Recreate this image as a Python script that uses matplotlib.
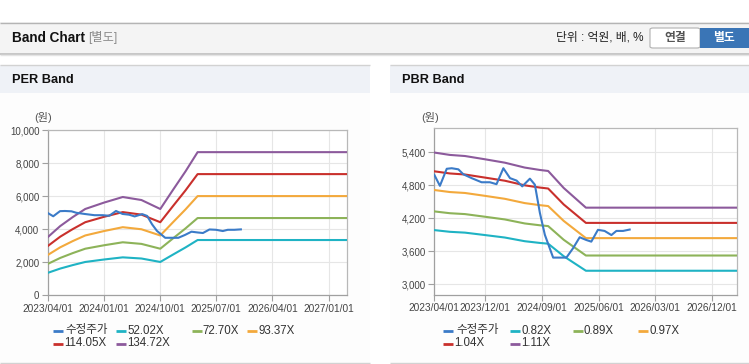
import numpy as np
import pandas as pd
import matplotlib
matplotlib.use("Agg")
import matplotlib.pyplot as plt
from matplotlib.patches import Rectangle, FancyBboxPatch
from matplotlib.lines import Line2D
from matplotlib.ticker import FuncFormatter

plt.rcParams['font.family'] = ['Liberation Sans', 'Noto Sans CJK KR', 'DejaVu Sans']

# ---------------- DATA ----------------
price_dates = ['2023-04-01', '2023-04-28', '2023-05-31', '2023-06-24', '2023-07-26', '2023-08-19',
               '2023-09-28', '2023-11-15', '2023-12-25', '2024-01-26', '2024-02-28', '2024-03-31',
               '2024-05-02', '2024-05-29', '2024-07-05', '2024-07-29', '2024-08-22', '2024-09-15',
               '2024-10-25', '2024-12-28', '2025-01-29', '2025-03-02', '2025-04-03', '2025-04-27',
               '2025-05-29', '2025-06-30', '2025-08-02', '2025-08-26', '2025-09-27', '2025-10-29']
price_values = [4990, 4790, 5100, 5110, 5090, 5000,
                4930, 4855, 4855, 4820, 5110, 4930,
                4885, 4780, 4920, 4810, 4300, 3900,
                3485, 3485, 3655, 3855, 3805, 3775,
                3990, 3970, 3895, 3970, 3970, 3995]

per_band_dates = ['2023-04-01', '2023-06-01', '2023-08-01', '2023-10-01', '2024-01-01', '2024-04-01',
                  '2024-07-01', '2024-10-01', '2024-12-01', '2025-02-01', '2025-04-01', '2027-04-01']
per_labels = ['52.02X', '72.70X', '93.37X', '114.05X', '134.72X']
per_52 = [1360, 1620, 1830, 2020, 2170, 2300, 2230, 2020, 2460, 2900, 3350, 3350]
per_72 = [1901, 2264, 2557, 2823, 3033, 3214, 3116, 2823, 3438, 4053, 4682, 4682]
per_93 = [2441, 2908, 3285, 3626, 3895, 4128, 4003, 3626, 4415, 5205, 6013, 6013]
per_114 = [2982, 3552, 4012, 4429, 4758, 5043, 4889, 4429, 5393, 6358, 7345, 7345]
per_134 = [3522, 4195, 4739, 5231, 5620, 5957, 5775, 5231, 6371, 7510, 8676, 8676]

pbr_band_dates = ['2023-04-01', '2023-06-15', '2023-08-27', '2023-12-01', '2024-03-06', '2024-06-10',
                  '2024-08-21', '2024-10-01', '2024-12-15', '2025-04-01', '2027-04-01']
pbr_labels = ['0.82X', '0.89X', '0.97X', '1.04X', '1.11X']
pbr_082 = [3985, 3954, 3939, 3895, 3850, 3783, 3752, 3738, 3510, 3246, 3246]
pbr_089 = [4325, 4292, 4276, 4228, 4179, 4106, 4073, 4058, 3809, 3523, 3523]
pbr_097 = [4714, 4677, 4660, 4608, 4554, 4476, 4439, 4422, 4152, 3839, 3839]
pbr_104 = [5054, 5015, 4996, 4940, 4883, 4799, 4759, 4741, 4451, 4116, 4116]
pbr_111 = [5395, 5352, 5332, 5273, 5211, 5122, 5079, 5060, 4751, 4393, 4393]

per_xticks = ['2023/04/01', '2024/01/01', '2024/10/01', '2025/07/01', '2026/04/01', '2027/01/01']
pbr_xticks = ['2023/04/01', '2023/12/01', '2024/09/01', '2025/06/01', '2026/03/01', '2026/12/01']
per_yticks = [0, 2000, 4000, 6000, 8000, 10000]
pbr_yticks = [3000, 3600, 4200, 4800, 5400]

price_label = '수정주가'

# ---------------- STYLE ----------------
W, H = 749, 364
colors = ['#3b7bc8', '#1fb3c4', '#8db359', '#f3a93c', '#c9302c', '#8c5a9c']

fig = plt.figure(figsize=(W / 100, H / 100), dpi=100)
fig.patch.set_facecolor('white')


def fx(x):
    return x / W


def fy(y):
    return 1 - y / H


def rect(x0, y0, x1, y1, fc, ec='none', lw=0, z=0):
    r = Rectangle((fx(x0), fy(y1)), fx(x1) - fx(x0), fy(y0) - fy(y1),
                  transform=fig.transFigure, facecolor=fc, edgecolor=ec, linewidth=lw, zorder=z)
    fig.add_artist(r)


def hline(x0, x1, y, color, lw=1.0, z=1):
    fig.add_artist(Line2D([fx(x0), fx(x1)], [fy(y), fy(y)], transform=fig.transFigure,
                          color=color, linewidth=lw, zorder=z, solid_capstyle='butt'))


# header bar
rect(0, 22, W, 53, '#f4f4f4')
hline(0, W, 22.5, '#b4b4b4', 1.0)
hline(0, W, 53.5, '#bcbcbc', 1.2)
hline(0, W, 55, '#e4e4e4', 1.0)
fig.text(fx(12), fy(38), 'Band Chart', fontsize=9.8, fontweight='bold', color='#111111', va='center', ha='left')
fig.text(fx(88), fy(38), '[별도]', fontsize=8.8, color='#8a8a8a', va='center', ha='left')
fig.text(fx(643), fy(38), '단위 : 억원, 배, %', fontsize=8.5, color='#222222', va='center', ha='right')
# buttons
btn1 = FancyBboxPatch((fx(650), fy(48)), fx(50), fy(28) - fy(48),
                      boxstyle='round,pad=0,rounding_size=0.004', transform=fig.transFigure,
                      facecolor='white', edgecolor='#b0b0b0', linewidth=0.8, zorder=2)
fig.add_artist(btn1)
rect(700, 28, W, 48, '#3a75b6', z=2)
fig.text(fx(675), fy(38), '연결', fontsize=8.5, fontweight='bold', color='#555555', va='center', ha='center', zorder=3)
fig.text(fx(724), fy(38), '별도', fontsize=8.5, fontweight='bold', color='white', va='center', ha='center', zorder=3)

# panel title bars
for (x0, x1, title) in [(0, 370, 'PER Band'), (390, W, 'PBR Band')]:
    rect(x0, 65, x1, 93, '#eff2f7')
    hline(x0, x1, 64.5, '#d2d2d2', 1.0)
    rect(x0, 93, x1, 363, '#fdfdfd')
    hline(x0, x1, 363.3, '#d2d2d2', 1.0)
    fig.text(fx(x0 + 12), fy(80), title, fontsize=9.2, fontweight='bold', color='#111111',
             va='center', ha='left')


def style_axes(ax, xticks, yticks, ylim):
    ax.set_facecolor('white')
    ax.set_xlim(pd.Timestamp('2023-04-01'), pd.Timestamp('2027-04-01'))
    ax.set_ylim(*ylim)
    pos = pd.to_datetime(xticks, format='%Y/%m/%d')
    ax.set_xticks(pos)
    ax.set_xticklabels(xticks, fontsize=7.3, color='#444444')
    ax.set_yticks(yticks)
    ax.yaxis.set_major_formatter(FuncFormatter(lambda v, p: f'{v:,.0f}'))
    for lbl in ax.get_yticklabels():
        lbl.set_fontsize(7.0)
        lbl.set_color('#444444')
    ax.grid(True, color='#e6e6e6', linewidth=0.8, zorder=0)
    for s in ['top', 'right']:
        ax.spines[s].set_color('#b8b8b8')
        ax.spines[s].set_linewidth(0.9)
    for s in ['left', 'bottom']:
        ax.spines[s].set_color('#a0a0a0')
        ax.spines[s].set_linewidth(0.9)
    ax.tick_params(axis='both', length=4, width=0.8, color='#a0a0a0', pad=2)
    ax.set_axisbelow(True)


# PER axes
ax1 = fig.add_axes([fx(47.7), fy(295.3), fx(347.3) - fx(47.7), fy(130.3) - fy(295.3)])
style_axes(ax1, per_xticks, per_yticks, (0, 10000))
pbd = pd.to_datetime(per_band_dates)
for vals, c in zip([per_52, per_72, per_93, per_114, per_134], colors[1:]):
    ax1.plot(pbd, vals, color=c, linewidth=1.5, zorder=3, solid_joinstyle='round')
ax1.plot(pd.to_datetime(price_dates), price_values, color=colors[0], linewidth=1.5, zorder=4,
         solid_joinstyle='round')
fig.text(fx(43), fy(118), '(원)', fontsize=8, color='#555555', ha='center', va='center')

# PBR axes
ax2 = fig.add_axes([fx(434.3), fy(295), fx(737.3) - fx(434.3), fy(128.3) - fy(295)])
style_axes(ax2, pbr_xticks, pbr_yticks, (2805, 5836))
bbd = pd.to_datetime(pbr_band_dates)
for vals, c in zip([pbr_082, pbr_089, pbr_097, pbr_104, pbr_111], colors[1:]):
    ax2.plot(bbd, vals, color=c, linewidth=1.5, zorder=3, solid_joinstyle='round')
ax2.plot(pd.to_datetime(price_dates), price_values, color=colors[0], linewidth=1.5, zorder=4,
         solid_joinstyle='round')
fig.text(fx(430), fy(118), '(원)', fontsize=8, color='#555555', ha='center', va='center')


# legends
def legend_item(x, y, color, text, gap):
    fig.add_artist(Line2D([fx(x), fx(x + 10)], [fy(y), fy(y)], transform=fig.transFigure,
                          color=color, linewidth=2.0, solid_capstyle='butt'))
    fig.text(fx(x + 10 + gap), fy(y), text, fontsize=8.3, color='#333333', ha='left', va='center')


R1, R2 = 330.5, 343.5
per_names = [price_label] + per_labels
per_pos = [(52.7, R1), (116, R1), (191.7, R1), (247.3, R1), (52.7, R2), (116, R2)]
for i, ((x, y), c, t) in enumerate(zip(per_pos, colors, per_names)):
    legend_item(x, y, c, t, 3 if i == 0 else 1)

pbr_names = [price_label] + pbr_labels
pbr_pos = [(443, R1), (510, R1), (573, R1), (638, R1), (443, R2), (510, R2)]
for i, ((x, y), c, t) in enumerate(zip(pbr_pos, colors, pbr_names)):
    legend_item(x, y, c, t, 3 if i == 0 else 1)

fig.savefig('out.png', dpi=100, facecolor='white')
